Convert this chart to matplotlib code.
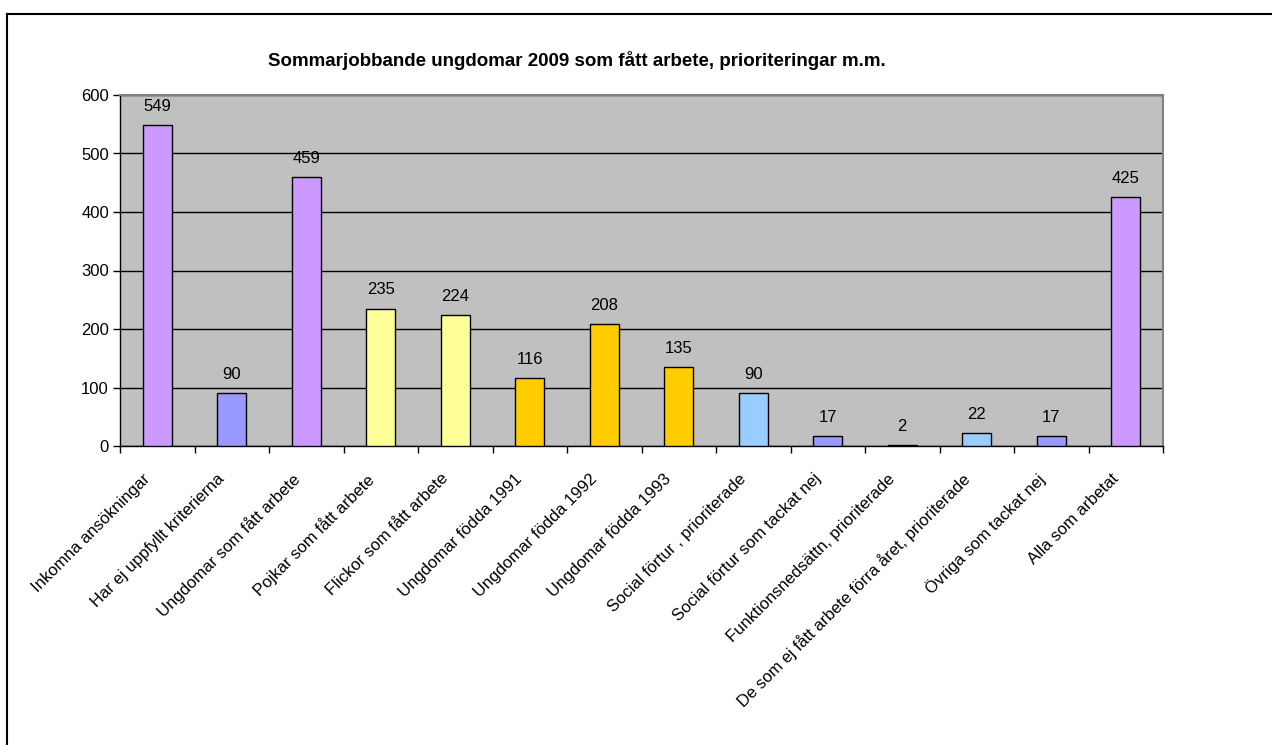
import matplotlib
matplotlib.use("Agg")
import matplotlib.pyplot as plt
from matplotlib.lines import Line2D
import matplotlib.transforms as mtransforms
import numpy as np

plt.rcParams['font.family'] = ['Liberation Sans', 'DejaVu Sans']

categories = [
    "Inkomna ansökningar",
    "Har ej uppfyllt kriterierna",
    "Ungdomar som fått arbete",
    "Pojkar som fått arbete",
    "Flickor som fått arbete",
    "Ungdomar födda 1991",
    "Ungdomar födda 1992",
    "Ungdomar födda 1993",
    "Social förtur , prioriterade",
    "Social förtur som tackat nej",
    "Funktionsnedsättn, prioriterade",
    "De som ej fått arbete förra året, prioriterade",
    "Övriga som tackat nej",
    "Alla som arbetat",
]
values = [549, 90, 459, 235, 224, 116, 208, 135, 90, 17, 2, 22, 17, 425]
colors = ["#CC99FF", "#9999FF", "#CC99FF", "#FFFF99", "#FFFF99", "#FFCC00",
          "#FFCC00", "#FFCC00", "#99CCFF", "#9999FF", "#99CCFF", "#99CCFF",
          "#9999FF", "#CC99FF"]
yticks = [0, 100, 200, 300, 400, 500, 600]
title = "Sommarjobbande ungdomar 2009 som fått arbete, prioriteringar m.m."

fig = plt.figure(figsize=(12.72, 7.45), dpi=100)
ax = fig.add_axes([120/1272, 1-446/745, (1163-120)/1272, (446-95)/745])
ax.set_facecolor("#C0C0C0")

x = np.arange(len(categories))
ax.bar(x, values, width=0.39, color=colors, edgecolor="black", linewidth=1, zorder=3)
for xi, v in zip(x, values):
    ax.annotate(str(v), (xi, v), xytext=(0, 8), textcoords="offset points",
                ha="center", va="bottom", fontsize=12, zorder=4)

ax.set_xlim(-0.5, len(categories) - 0.5)
ax.set_ylim(0, 600)
ax.set_yticks(yticks)
ax.set_yticklabels([str(t) for t in yticks], fontsize=12)
ax.yaxis.grid(True, color="black", linewidth=1, zorder=1)
ax.tick_params(axis="y", direction="out", length=5, width=1, pad=3)

ax.set_xticks(x)
ax.set_xticklabels(categories, rotation=45, ha="right", rotation_mode="anchor", fontsize=12)
ax.tick_params(axis="x", which="major", length=0, pad=18)
offset = mtransforms.ScaledTranslation(-15/100, 0, fig.dpi_scale_trans)
for lbl in ax.get_xticklabels():
    lbl.set_transform(lbl.get_transform() + offset)
ax.set_xticks(np.arange(-0.5, len(categories)), minor=True)
ax.tick_params(axis="x", which="minor", direction="out", length=5, width=1)

for s in ["left", "bottom"]:
    ax.spines[s].set_color("black")
    ax.spines[s].set_linewidth(1)
for s in ["top", "right"]:
    ax.spines[s].set_color("#808080")
    ax.spines[s].set_linewidth(1.5)

fig.text(577/1272, 1-60/745, title, ha="center", va="center", fontsize=13.5, fontweight="bold")

# outer chart border
fig.add_artist(Line2D([7/1272, 1], [1-14/745, 1-14/745], color="black", linewidth=1.5,
                      transform=fig.transFigure))
fig.add_artist(Line2D([7/1272, 7/1272], [0, 1-14/745], color="black", linewidth=1.5,
                      transform=fig.transFigure))

fig.savefig("out.png", dpi=100, facecolor="white")
